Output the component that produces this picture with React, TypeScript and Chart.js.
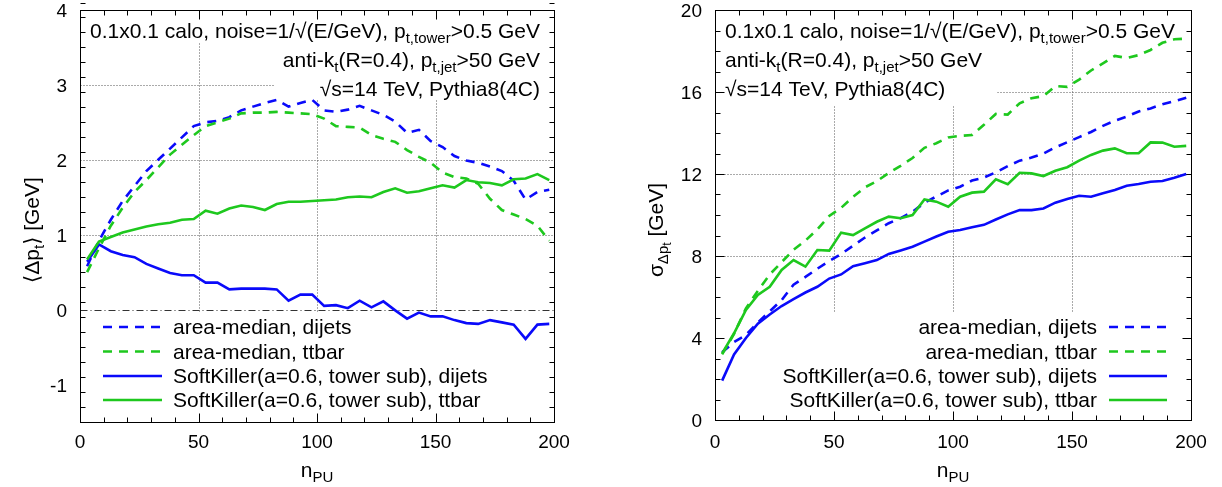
import React, { useEffect, useRef } from "react";
import { Chart, registerables } from "chart.js";
Chart.register(...registerables);

// ---------- data ----------
const nPU = [3, 8, 13, 18, 23, 28, 33, 38, 43, 48, 53, 58, 63, 68, 73, 78, 83, 88, 93, 98,
  103, 108, 113, 118, 123, 128, 133, 138, 143, 148, 153, 158, 163, 168, 173, 178, 183, 188, 193, 198];

// left panel: <Δpt> [GeV]
const amDijetsMean = [0.58, 0.92, 1.2, 1.45, 1.65, 1.85, 2.0, 2.15, 2.3, 2.45, 2.5, 2.52, 2.57, 2.66, 2.71, 2.76, 2.8, 2.71, 2.76, 2.8,
  2.66, 2.64, 2.67, 2.72, 2.66, 2.6, 2.51, 2.36, 2.4, 2.25, 2.17, 2.05, 1.99, 1.96, 1.91, 1.85, 1.72, 1.47, 1.57, 1.6];
const amTtbarMean = [0.5, 0.82, 1.12, 1.36, 1.57, 1.73, 1.9, 2.07, 2.2, 2.33, 2.45, 2.5, 2.55, 2.62, 2.63, 2.63, 2.64, 2.63, 2.62, 2.61,
  2.55, 2.45, 2.44, 2.43, 2.33, 2.28, 2.24, 2.13, 2.04, 1.96, 1.83, 1.77, 1.75, 1.68, 1.48, 1.33, 1.27, 1.21, 1.12, 0.92];
const skDijetsMean = [0.64, 0.87, 0.78, 0.73, 0.7, 0.61, 0.55, 0.49, 0.46, 0.46, 0.36, 0.36, 0.27, 0.28, 0.28, 0.28, 0.27, 0.12, 0.2, 0.2,
  0.05, 0.06, 0.02, 0.12, 0.03, 0.11, -0.01, -0.12, -0.04, -0.09, -0.09, -0.14, -0.18, -0.19, -0.14, -0.17, -0.2, -0.39, -0.2, -0.19];
const skTtbarMean = [0.67, 0.91, 0.97, 1.03, 1.07, 1.11, 1.14, 1.16, 1.2, 1.21, 1.32, 1.28, 1.35, 1.39, 1.37, 1.33, 1.41, 1.44, 1.44, 1.45,
  1.46, 1.47, 1.5, 1.51, 1.5, 1.57, 1.62, 1.56, 1.58, 1.62, 1.66, 1.63, 1.73, 1.7, 1.69, 1.66, 1.74, 1.75, 1.81, 1.73];

// right panel: sigma_Δpt [GeV]
const amDijetsSigma = [3.3, 3.8, 4.15, 4.75, 5.3, 5.85, 6.6, 6.98, 7.38, 7.75, 8.1, 8.5, 8.9, 9.25, 9.6, 9.85, 10.15, 10.6, 10.9, 11.2,
  11.38, 11.68, 11.83, 12.08, 12.38, 12.65, 12.8, 13.0, 13.3, 13.55, 13.8, 14.05, 14.35, 14.6, 14.8, 15.05, 15.2, 15.4, 15.55, 15.72];
const amTtbarSigma = [3.2, 4.2, 5.45, 6.3, 7.1, 7.7, 8.3, 8.75, 9.3, 9.95, 10.35, 10.88, 11.35, 11.65, 12.05, 12.4, 12.78, 13.28, 13.5, 13.78,
  13.86, 13.9, 14.4, 14.93, 14.9, 15.45, 15.7, 15.8, 16.29, 16.25, 16.6, 17.05, 17.4, 17.76, 17.66, 17.8, 18.05, 18.4, 18.57, 18.6];
const skDijetsSigma = [1.92, 3.2, 4.0, 4.7, 5.15, 5.56, 5.9, 6.22, 6.5, 6.9, 7.1, 7.5, 7.65, 7.8, 8.1, 8.27, 8.45, 8.7, 8.95, 9.18,
  9.27, 9.4, 9.52, 9.78, 10.03, 10.24, 10.24, 10.32, 10.6, 10.78, 10.94, 10.89, 11.06, 11.22, 11.43, 11.51, 11.62, 11.66, 11.82, 12.0];
const skTtbarSigma = [3.25, 4.23, 5.37, 6.1, 6.5, 7.32, 7.8, 7.48, 8.29, 8.26, 9.14, 9.02, 9.35, 9.67, 9.92, 9.84, 10.0, 10.76, 10.65, 10.4,
  10.89, 11.09, 11.14, 11.74, 11.5, 12.06, 12.03, 11.9, 12.16, 12.33, 12.65, 12.93, 13.14, 13.25, 13.01, 13.01, 13.54, 13.53, 13.33, 13.37];

const xTicks = [0, 50, 100, 150, 200];
const leftYTicks = [-1, 0, 1, 2, 3, 4];
const rightYTicks = [0, 4, 8, 12, 16, 20];
const legendLabels = [
  "area-median, dijets",
  "area-median, ttbar",
  "SoftKiller(a=0.6, tower sub), dijets",
  "SoftKiller(a=0.6, tower sub), ttbar",
];

// ---------- styling ----------
const BLUE = "rgb(10,10,250)";
const GREEN = "rgb(30,200,30)";
const DASH = [9, 7];
const FAM = '"Liberation Sans", Arial, Helvetica, "DejaVu Sans", sans-serif';
const SIZES = [21, 15, 12];
const OFFS = [0, 5, 8];
const TICKFONT = `19px ${FAM}`;

type Seg = { t: string; l: number };
const S = (t: string, l = 0): Seg => ({ t, l });

const infoLine1: Seg[] = [S("0.1x0.1 calo, noise=1/√(E/GeV), p"), S("t,tower", 1), S(">0.5 GeV")];
const infoLine2: Seg[] = [S("anti-k"), S("t", 1), S("(R=0.4), p"), S("t,jet", 1), S(">50 GeV")];
const infoLine3: Seg[] = [S("√s=14 TeV, Pythia8(4C)")];
const xTitle: Seg[] = [S("n"), S("PU", 1)];
const leftYTitle: Seg[] = [S("⟨Δp"), S("t", 1), S("⟩ [GeV]")];
const rightYTitle: Seg[] = [S("σ"), S("Δp", 1), S("t", 2), S(" [GeV]")];

function richWidth(ctx: CanvasRenderingContext2D, segs: Seg[]) {
  let w = 0;
  for (const s of segs) {
    ctx.font = `${SIZES[s.l]}px ${FAM}`;
    w += ctx.measureText(s.t).width;
  }
  return w;
}
function drawRich(ctx: CanvasRenderingContext2D, segs: Seg[], x: number, y: number, align: "left" | "right" | "center") {
  const w = richWidth(ctx, segs);
  let cx = align === "left" ? x : align === "right" ? x - w : x - w / 2;
  ctx.textAlign = "left";
  ctx.textBaseline = "alphabetic";
  for (const s of segs) {
    ctx.font = `${SIZES[s.l]}px ${FAM}`;
    ctx.fillText(s.t, cx, y + OFFS[s.l]);
    cx += ctx.measureText(s.t).width;
  }
  return w;
}

type Panel = {
  id: string;
  left: number;
  padding: { left: number; right: number; top: number; bottom: number };
  yMin: number; yMax: number; yTicks: number[]; yMinor: number;
  gridY: number[];
  zeroLine: boolean;
  series: number[][];
  yTitle: Seg[]; yTitleX: number; yTitleY: number;
  textAlign: "left" | "right"; textX: number;
  legendAlign: "left" | "right";
  sampleX0: number; sampleX1: number; legendTextX: number;
};

const legendRows = [327, 351.5, 376, 400];
const infoBaselines = [38, 67, 96];

function framePlugin(p: Panel) {
  return {
    id: "frame" + p.id,
    beforeDraw(chart: any) {
      const ctx = chart.ctx as CanvasRenderingContext2D;
      ctx.save();
      ctx.fillStyle = "#fff";
      ctx.fillRect(0, 0, chart.width, chart.height);
      ctx.restore();
    },
    beforeDatasetsDraw(chart: any) {
      const ctx = chart.ctx as CanvasRenderingContext2D;
      const a = chart.chartArea;
      const xs = chart.scales.x, ys = chart.scales.y;
      const L = Math.round(a.left) + 0.5, R = Math.round(a.right) + 0.5;
      const T = Math.round(a.top) + 0.5, B = Math.round(a.bottom) + 0.5;
      ctx.save();
      // grid
      ctx.strokeStyle = "#555";
      ctx.lineWidth = 1;
      ctx.setLineDash([1, 2]);
      for (const v of xTicks.slice(1, -1)) {
        const px = Math.round(xs.getPixelForValue(v)) + 0.5;
        ctx.beginPath(); ctx.moveTo(px, T); ctx.lineTo(px, B); ctx.stroke();
      }
      for (const v of p.gridY) {
        const py = Math.round(ys.getPixelForValue(v)) + 0.5;
        ctx.beginPath(); ctx.moveTo(L, py); ctx.lineTo(R, py); ctx.stroke();
      }
      if (p.zeroLine) {
        ctx.strokeStyle = "#333";
        ctx.setLineDash([7, 3, 1, 3]);
        const py = Math.round(ys.getPixelForValue(0)) + 0.5;
        ctx.beginPath(); ctx.moveTo(L, py); ctx.lineTo(R, py); ctx.stroke();
      }
      ctx.setLineDash([]);
      // opaque label boxes
      const w1 = richWidth(ctx, infoLine1);
      const w2 = richWidth(ctx, infoLine2);
      ctx.fillStyle = "#fff";
      if (p.textAlign === "right") {
        ctx.fillRect(p.textX - w1 - 7, a.top, a.right - (p.textX - w1 - 7), 43 - a.top);
        ctx.fillRect(p.textX - w2 - 8, 43, a.right - (p.textX - w2 - 8), 100 - 43);
        ctx.fillRect(a.left + 8, 313, a.right - a.left - 8, a.bottom - 313);
      } else {
        ctx.fillRect(a.left, a.top, p.textX + w1 + 8 - a.left, 47 - a.top);
        ctx.fillRect(a.left, 47, p.textX + w2 + 15 - a.left, 105 - 47);
        ctx.fillRect(a.left, 313, a.right - a.left, a.bottom - 313);
      }
      // ticks
      ctx.strokeStyle = "#000";
      ctx.lineWidth = 1;
      const tick = (x0: number, y0: number, x1: number, y1: number) => {
        ctx.beginPath(); ctx.moveTo(x0, y0); ctx.lineTo(x1, y1); ctx.stroke();
      };
      for (let v = 0; v <= 200; v += 10) {
        const px = Math.round(xs.getPixelForValue(v)) + 0.5;
        const len = v % 50 === 0 ? 9 : 5;
        tick(px, B, px, B - len);
        tick(px, T, px, T + len);
      }
      const nMinor = Math.round((p.yMax - p.yMin) / p.yMinor);
      for (let i = 0; i <= nMinor; i++) {
        const v = p.yMin + i * p.yMinor;
        const py = Math.round(ys.getPixelForValue(v)) + 0.5;
        const major = p.yTicks.some((t) => Math.abs(t - v) < 1e-6);
        const len = major ? 9 : 5;
        tick(L, py, L + len, py);
        tick(R, py, R - len, py);
      }
      // border
      ctx.strokeRect(L, T, R - L, B - T);
      // tick labels
      ctx.fillStyle = "#000";
      ctx.font = TICKFONT;
      ctx.textBaseline = "alphabetic";
      ctx.textAlign = "center";
      for (const v of xTicks) {
        ctx.fillText(String(v), xs.getPixelForValue(v), 448);
      }
      ctx.textAlign = "right";
      for (const v of p.yTicks) {
        ctx.fillText(String(v), a.left - 13, ys.getPixelForValue(v) + 7);
      }
      // axis titles
      drawRich(ctx, xTitle, (a.left + a.right) / 2, 477, "center");
      ctx.save();
      ctx.translate(p.yTitleX, p.yTitleY);
      ctx.rotate(-Math.PI / 2);
      drawRich(ctx, p.yTitle, 0, 0, "center");
      ctx.restore();
      // info text
      const lines = [infoLine1, infoLine2, infoLine3];
      lines.forEach((ln, i) => drawRich(ctx, ln, p.textX, infoBaselines[i], p.textAlign));
      // legend
      const colors = [BLUE, GREEN, BLUE, GREEN];
      legendLabels.forEach((lab, i) => {
        const y = legendRows[i];
        ctx.fillStyle = "#000";
        ctx.font = `${SIZES[0]}px ${FAM}`;
        ctx.textAlign = p.legendAlign;
        ctx.fillText(lab, p.legendTextX, y + 7);
        ctx.strokeStyle = colors[i];
        ctx.lineWidth = 2.6;
        ctx.setLineDash(i < 2 ? DASH : []);
        ctx.beginPath(); ctx.moveTo(p.sampleX0, y); ctx.lineTo(p.sampleX1, y); ctx.stroke();
        ctx.setLineDash([]);
      });
      ctx.restore();
    },
  };
}

function buildChart(canvas: HTMLCanvasElement, p: Panel) {
  const styles = [
    { c: BLUE, d: DASH, l: legendLabels[0] },
    { c: GREEN, d: DASH, l: legendLabels[1] },
    { c: BLUE, d: [] as number[], l: legendLabels[2] },
    { c: GREEN, d: [] as number[], l: legendLabels[3] },
  ];
  return new Chart(canvas, {
    type: "line",
    data: {
      datasets: p.series.map((vals, i) => ({
        label: styles[i].l,
        data: nPU.map((x, j) => ({ x, y: vals[j] })),
        borderColor: styles[i].c,
        borderDash: styles[i].d,
        borderWidth: 2.6,
        pointRadius: 0,
        tension: 0,
        fill: false,
        order: 4 - i,
      })),
    },
    options: {
      responsive: false,
      animation: false,
      layout: { padding: p.padding },
      scales: {
        x: { type: "linear", min: 0, max: 200, display: false },
        y: { type: "linear", min: p.yMin, max: p.yMax, display: false },
      },
      plugins: { legend: { display: false }, tooltip: { enabled: false } },
      events: [],
    },
    plugins: [framePlugin(p)],
  } as any);
}

const leftPanel: Panel = {
  id: "L",
  left: 0,
  padding: { left: 80, right: 57, top: 10, bottom: 65 },
  yMin: -1.5, yMax: 4, yTicks: leftYTicks, yMinor: 0.2,
  gridY: [1, 2, 3],
  zeroLine: true,
  series: [amDijetsMean, amTtbarMean, skDijetsMean, skTtbarMean],
  yTitle: leftYTitle, yTitleX: 39, yTitleY: 230,
  textAlign: "right", textX: 540,
  legendAlign: "left", sampleX0: 103, sampleX1: 162, legendTextX: 173,
};

const rightPanel: Panel = {
  id: "R",
  left: 611,
  padding: { left: 104, right: 31, top: 10, bottom: 67 },
  yMin: 0, yMax: 20, yTicks: rightYTicks, yMinor: 1,
  gridY: [4, 8, 12, 16],
  zeroLine: false,
  series: [amDijetsSigma, amTtbarSigma, skDijetsSigma, skTtbarSigma],
  yTitle: rightYTitle, yTitleX: 52, yTitleY: 230,
  textAlign: "left", textX: 114,
  legendAlign: "right", sampleX0: 498, sampleX1: 556, legendTextX: 486,
};

function PanelCanvas({ panel }: { panel: Panel }) {
  const ref = useRef<HTMLCanvasElement | null>(null);
  useEffect(() => {
    if (!ref.current) return;
    const ch = buildChart(ref.current, panel);
    return () => ch.destroy();
  }, [panel]);
  return (
    <canvas
      ref={ref}
      width={611}
      height={487}
      style={{ position: "absolute", left: panel.left, top: 0, width: 611, height: 487 }}
    />
  );
}

export default function App() {
  return (
    <div style={{ position: "absolute", left: 0, top: 0, width: 1222, height: 487, background: "#fff" }}>
      <PanelCanvas panel={leftPanel} />
      <PanelCanvas panel={rightPanel} />
    </div>
  );
}
